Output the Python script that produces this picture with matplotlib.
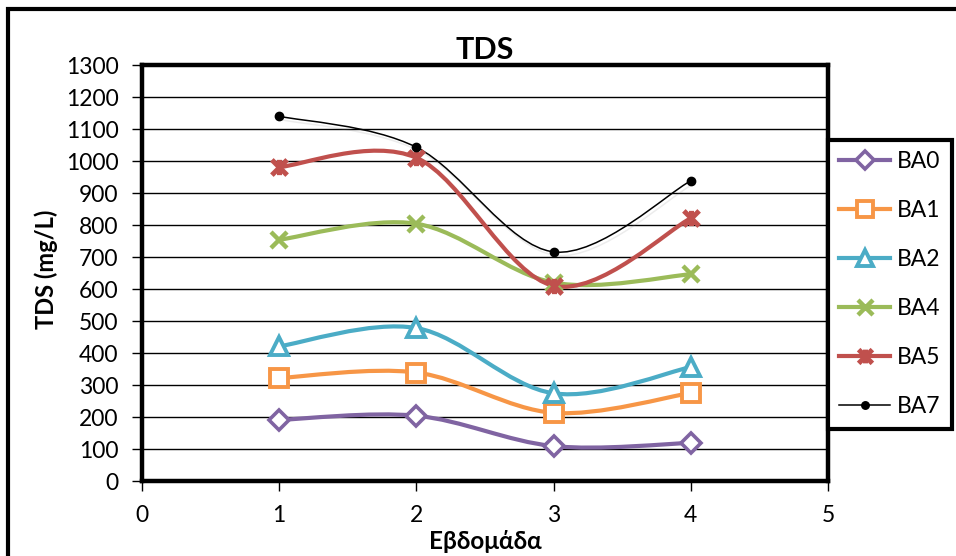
import numpy as np
import matplotlib
matplotlib.use("Agg")
import matplotlib.pyplot as plt
from matplotlib.path import Path
from matplotlib.patches import PathPatch, Rectangle
from matplotlib.lines import Line2D
import matplotlib.patheffects as pe

plt.rcParams["font.family"] = ["Lato", "DejaVu Sans"]

weeks = [1, 2, 3, 4]
BA0 = [191, 204, 109, 119]
BA1 = [322, 339, 213, 275]
BA2 = [421, 478, 274, 356]
BA4 = [754, 804, 620, 646]
BA5 = [981, 1010, 610, 821]
BA7 = [1140, 1043, 716, 938]

# custom "star" marker like Excel's: an X plus a vertical bar
STAR = Path(
    [(-1, -1), (1, 1), (-1, 1), (1, -1), (0, -1), (0, 1)],
    [Path.MOVETO, Path.LINETO, Path.MOVETO, Path.LINETO, Path.MOVETO, Path.LINETO],
)

SERIES = [
    ("BA0", BA0, "#8064A2", "D", 10, 2.6, "white"),
    ("BA1", BA1, "#F79646", "s", 13, 2.8, "white"),
    ("BA2", BA2, "#4BACC6", "^", 13, 2.8, "white"),
    ("BA4", BA4, "#9BBB59", "x", 12, 3.2, "#9BBB59"),
    ("BA5", BA5, "#C0504D", STAR, 11, 3.6, "#C0504D"),
    ("BA7", BA7, "black", "o", 6, 1.0, "black"),
]


# Excel style smoothed line: cubic bezier through the points
def smooth_path(x, y):
    pts = np.column_stack([x, y]).astype(float)
    n = len(pts)
    verts = [pts[0]]
    codes = [Path.MOVETO]
    for i in range(n - 1):
        p0 = pts[max(i - 1, 0)]
        p1 = pts[i]
        p2 = pts[i + 1]
        p3 = pts[min(i + 2, n - 1)]
        c1 = p1 + (p2 - p0) / 6.0
        c2 = p2 - (p3 - p1) / 6.0
        verts += [c1, c2, p2]
        codes += [Path.CURVE4] * 3
    return Path(verts, codes)


W, H = 956, 556
fig = plt.figure(figsize=(W / 100, H / 100), dpi=100)
ax = fig.add_axes([142 / W, 1 - 481 / H, (828 - 142) / W, (481 - 65) / H])

# outer chart frame, runs off the right and bottom edge
fig.patches.append(Rectangle((8 / W, -0.2), 1.2, 1.2 - 9 / H,
                             transform=fig.transFigure, fill=False,
                             lw=3, edgecolor="black", zorder=0))

handles = []
for name, vals, color, marker, ms, lw, face in SERIES:
    lw_line = 1.1 if name == "BA7" else 3.0
    patch = PathPatch(smooth_path(weeks, vals), fill=False, edgecolor=color,
                      lw=lw_line, zorder=3, capstyle="round", joinstyle="round")
    if name == "BA7":
        patch.set_path_effects([pe.SimpleLineShadow(offset=(1.5, -2.5), shadow_color="gray", alpha=0.15),
                                pe.Normal()])
    ax.add_patch(patch)
    ax.plot(weeks, vals, linestyle="none", marker=marker, ms=ms,
            markeredgewidth=lw, markeredgecolor=color, markerfacecolor=face, zorder=4)
    handles.append(Line2D([0], [0], color=color, lw=lw_line, marker=marker, ms=ms * 0.9,
                          markeredgewidth=lw, markeredgecolor=color, markerfacecolor=face,
                          label=name))

ax.set_xlim(0, 5)
ax.set_ylim(0, 1300)
ax.set_xticks(range(0, 6))
ax.set_yticks(range(0, 1301, 100))
ax.yaxis.grid(True, color="black", lw=1.0)
ax.set_axisbelow(True)
for s in ax.spines.values():
    s.set_linewidth(3.2)
ax.tick_params(axis="both", labelsize=16.5, direction="out", length=7, width=1, color="black")
ax.tick_params(axis="y", pad=10)
ax.tick_params(axis="x", pad=10)

ax.set_title("TDS", fontsize=22, fontweight="bold", pad=4)
ax.set_ylabel("TDS (mg/L)", fontsize=17, fontweight="bold")
ax.yaxis.set_label_coords(-0.122, 0.51)
ax.set_xlabel("Εβδομάδα", fontsize=17.5, fontweight="bold", labelpad=3)

leg = fig.legend(handles=handles, loc="upper left", bbox_to_anchor=(828 / W, 1 - 140 / H),
                 borderaxespad=0, fontsize=16.5, handlelength=2.2, handletextpad=0.3,
                 labelspacing=1.22, borderpad=0.5, fancybox=False, framealpha=1)
leg.get_frame().set_edgecolor("black")
leg.get_frame().set_linewidth(3)

fig.savefig("out.png", dpi=100)
